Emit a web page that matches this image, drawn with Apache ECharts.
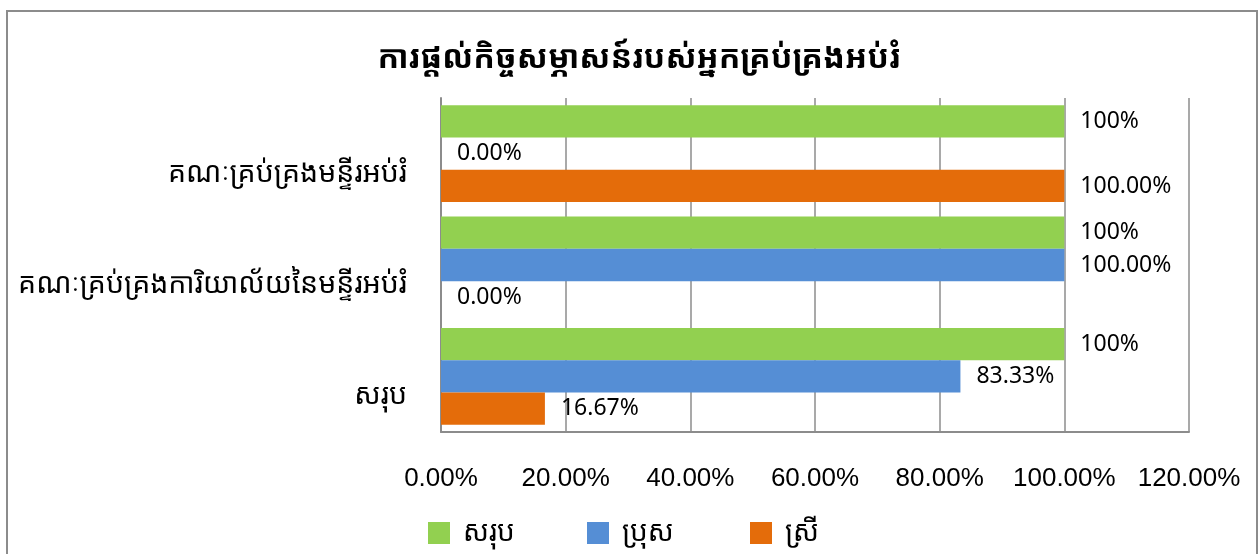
<!DOCTYPE html>
<html>
<head>
<meta charset="utf-8">
<script src="https://cdn.jsdelivr.net/npm/echarts@6/dist/echarts.min.js"></script>
<style>
  html, body { margin: 0; padding: 0; background: #fff; }
  #chart { width: 1259px; height: 554px; }
</style>
</head>
<body>
<div id="chart"></div>
<script>
// categories, bottom to top as ECharts draws them
var categories = ['សរុប', 'គណៈគ្រប់គ្រងការិយាល័យនៃមន្ទីរអប់រំ', 'គណៈគ្រប់គ្រងមន្ទីរអប់រំ']
var seriesNames = ['សរុប', 'ប្រុស', 'ស្រី']
var totalValues = [100, 100, 100]
var maleValues = [83.33, 100, 0]
var femaleValues = [16.67, 0, 100]
var xTicks = [0, 20, 40, 60, 80, 100, 120]
var seriesColors = ['#92d050', '#558ed5', '#e46c0a']

var khmerFont = '"Noto Sans Khmer", "Khmer OS System", "Khmer OS", "Noto Sans", sans-serif'
var labelFont = '"Noto Sans", sans-serif'

function barLabel (fixed) {
  return {
    show: true,
    position: 'right',
    distance: 16,
    color: '#000',
    fontFamily: labelFont,
    fontSize: 23,
    formatter: function (p) {
      return fixed ? p.value.toFixed(2) + '%' : p.value + '%'
    }
  }
}

// one legend per item so spacing can follow the original
var legendLefts = [423, 582, 745]
var legends = seriesNames.map(function (name, i) {
  return {
    data: [name],
    left: legendLefts[i],
    top: 514,
    itemWidth: 22,
    itemHeight: 22,
    icon: 'rect',
    textStyle: { fontFamily: khmerFont, fontSize: 28, color: '#000', padding: [0, 0, 0, 8] }
  }
})

var chart = echarts.init(document.getElementById('chart'))
var option = {
  animation: false,
  backgroundColor: '#fff',
  title: {
    text: 'ការផ្តល់កិច្ចសម្ភាសន៍របស់អ្នកគ្រប់គ្រងអប់រំ',
    left: 634,
    textAlign: 'center',
    top: 38,
    textStyle: { fontFamily: khmerFont, fontSize: 32, fontWeight: 'bold', color: '#000' }
  },
  graphic: [{
    type: 'rect',
    shape: { x: 7, y: 11, width: 1250, height: 560 },
    style: { fill: 'none', stroke: '#8c8c8c', lineWidth: 2 },
    silent: true
  }],
  legend: legends,
  grid: { left: 441, right: 70, top: 98, bottom: 122, containLabel: false },
  xAxis: {
    type: 'value',
    min: 0,
    max: 120,
    interval: 20,
    axisLine: { show: true, lineStyle: { color: '#8c8c8c', width: 2 } },
    axisTick: { show: false },
    splitLine: { show: true, lineStyle: { color: '#8c8c8c', width: 1.5 } },
    axisLabel: {
      margin: 34,
      color: '#000',
      fontFamily: '"Liberation Sans", Arial, sans-serif',
      fontSize: 26,
      formatter: function (v) { return xTicks.indexOf(v) >= 0 ? v.toFixed(2) + '%' : '' }
    }
  },
  yAxis: {
    type: 'category',
    data: categories,
    axisLine: { show: true, lineStyle: { color: '#8c8c8c', width: 2 } },
    axisTick: { show: false },
    axisLabel: {
      margin: 34,
      color: '#000',
      fontFamily: khmerFont,
      fontSize: 28.5,
      verticalAlign: 'top',
      lineHeight: 40
    }
  },
  series: [
    {
      name: 'សរុប', type: 'bar', data: totalValues, barGap: 0, barCategoryGap: '13%',
      itemStyle: { color: seriesColors[0] }, label: barLabel(false)
    },
    {
      name: 'ប្រុស', type: 'bar', data: maleValues, barGap: 0, barCategoryGap: '13%',
      itemStyle: { color: seriesColors[1] }, label: barLabel(true)
    },
    {
      name: 'ស្រី', type: 'bar', data: femaleValues, barGap: 0, barCategoryGap: '13%',
      itemStyle: { color: seriesColors[2] }, label: barLabel(true)
    }
  ]
}
chart.setOption(option)
</script>
</body>
</html>
